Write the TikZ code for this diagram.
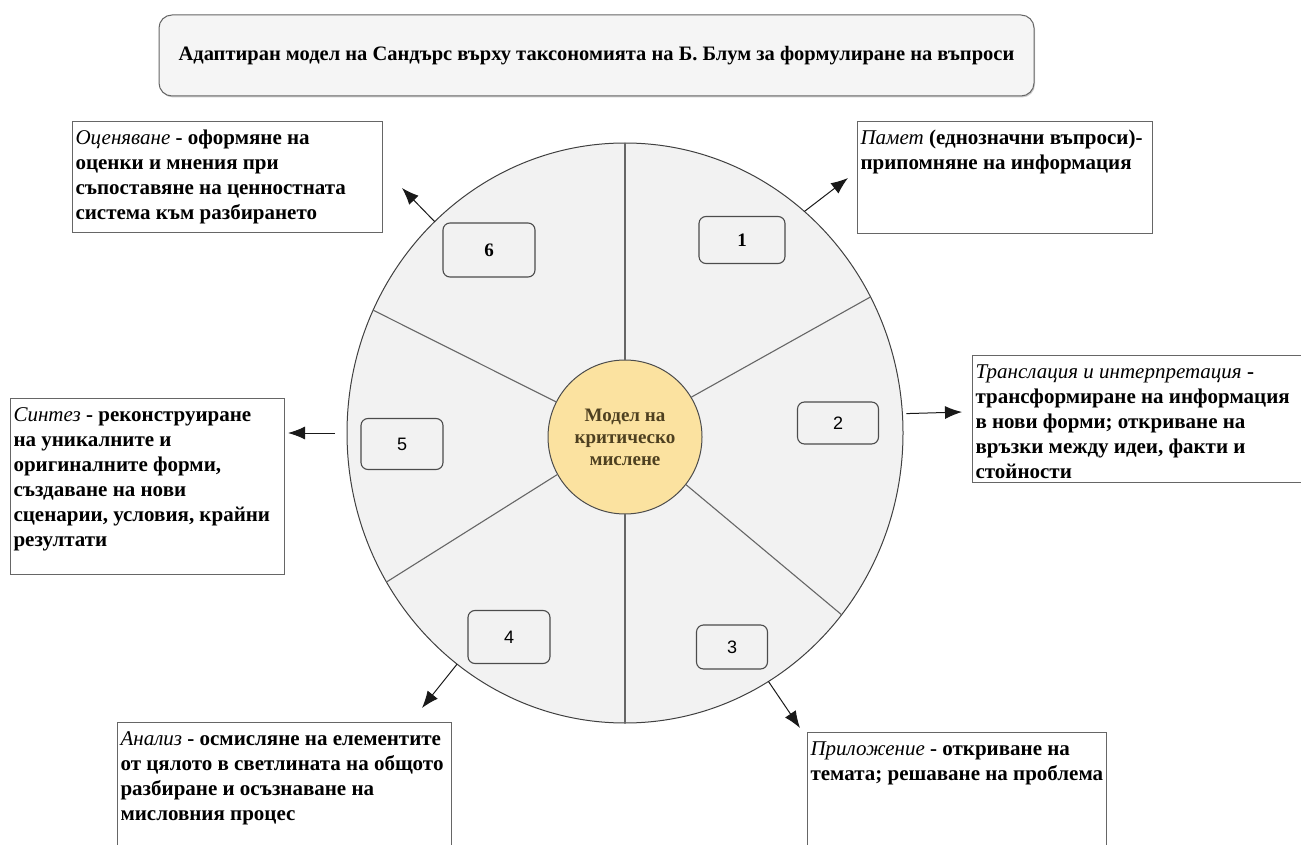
\documentclass[tikz,border=0pt]{standalone}
\usepackage{fontspec}
\setmainfont{Liberation Serif}
\newfontfamily\numfont{Liberation Sans}
\usetikzlibrary{shapes.geometric,arrows.meta,shadows}

\definecolor{wheelgray}{RGB}{242,242,242}
\definecolor{coreyellow}{RGB}{251,226,160}
\definecolor{corebrown}{RGB}{78,64,32}

% text inside the description boxes: width, height, text
\newcommand{\boxtext}[3]{\parbox[t][#2][t]{#1}{\fontsize{21}{25}\selectfont\bfseries\rule{0pt}{20pt}#3}}
\newcommand{\term}[1]{{\mdseries\itshape #1}}

\begin{document}
\begin{tikzpicture}[x=1pt,y=-1pt,
    descbox/.style={draw=black!60, line width=1.1pt, fill=white, anchor=north west, inner sep=3pt},
    numbox/.style={draw=black!70, line width=1.1pt, fill=wheelgray, rounded corners=7pt, inner sep=0pt},
    spoke/.style={draw=black!60, line width=1.1pt},
    outarrow/.style={-{Latex[length=17pt,width=13pt]}, black!90, line width=1pt}]
    \useasboundingbox (0,0) rectangle (1301,845);

    % Title
    \node[draw=black!60, line width=1pt, fill=black!4, rounded corners=13pt,
          minimum width=875pt, minimum height=81pt,
          drop shadow={shadow xshift=1pt, shadow yshift=-1.5pt, opacity=0.4},
          font=\fontsize{20.5}{24}\selectfont\bfseries] (title) at (596.5,55.5)
          {Адаптиран модел на Сандърс върху таксономията на Б. Блум за формулиране на въпроси};

    % Wheel
    \node[ellipse, draw=black!75, line width=1pt, fill=wheelgray, inner sep=0pt, outer sep=0pt,
          minimum width=556pt, minimum height=580pt] (wheel) at (625,433) {};
    \node[circle, draw=black!70, line width=1pt, fill=coreyellow, inner sep=0pt, outer sep=0pt,
          minimum size=154pt, align=center, text=corebrown,
          font=\fontsize{19}{22}\selectfont\bfseries] (core) at (625,437)
          {Модел на\\критическо\\мислене};

    % Spokes
    \draw[spoke] (core.90) -- (wheel.90);
    \draw[spoke] (core.31) -- (wheel.29.3);
    \draw[spoke] (core.-38.5) -- (wheel.-40.6);
    \draw[spoke] (core.270) -- (wheel.270);
    \draw[spoke] (core.209.7) -- (wheel.212);
    \draw[spoke] (core.153) -- (wheel.154.4);

    % Numbered boxes
    \node[numbox, minimum width=92pt, minimum height=54pt, font=\fontsize{19}{20}\selectfont\bfseries] (n6) at (489,250) {6};
    \node[numbox, minimum width=86pt, minimum height=47pt, font=\fontsize{19}{20}\selectfont\bfseries] (n1) at (742,240) {1};
    \node[numbox, minimum width=81pt, minimum height=42pt, font=\fontsize{18}{20}\numfont] (n2) at (838,423) {2};
    \node[numbox, minimum width=82pt, minimum height=51pt, font=\fontsize{18}{20}\numfont] (n5) at (402,444) {5};
    \node[numbox, minimum width=82pt, minimum height=53pt, font=\fontsize{18}{20}\numfont] (n4) at (509,637) {4};
    \node[numbox, minimum width=71pt, minimum height=44pt, font=\fontsize{18}{20}\numfont] (n3) at (732,647) {3};

    % Description boxes
    \node[descbox] (evalbox) at (72,121) {\boxtext{304pt}{105pt}{\term{Оценяване} - оформяне на\\оценки и мнения при\\съпоставяне на ценностната\\система към разбирането}};
    \node[descbox] (memorybox) at (857,121) {\boxtext{289pt}{106pt}{\term{Памет} (еднозначни въпроси)-\\припомняне на информация}};
    \node[descbox] (transbox) at (972,355) {\boxtext{340pt}{121pt}{\term{Транслация и интерпретация} -\\трансформиране на информация\\в нови форми; откриване на\\връзки между идеи, факти и\\стойности}};
    \node[descbox] (synthbox) at (10,398) {\boxtext{268pt}{170pt}{\term{Синтез} - реконструиране\\на уникалните и\\оригиналните форми,\\създаване на нови\\сценарии, условия, крайни\\резултати}};
    \node[descbox] (analbox) at (117,722) {\boxtext{328pt}{140pt}{\term{Анализ} - осмисляне на елементите\\от цялото в светлината на общото\\разбиране и осъзнаване на\\мисловния процес}};
    \node[descbox] (applbox) at (807,732) {\boxtext{293pt}{130pt}{\term{Приложение} - откриване на\\темата; решаване на проблема}};

    % Arrows out of the wheel
    \coordinate (tip1) at (848,178);
    \coordinate (tip2) at (962,412);
    \coordinate (tip3) at (800,728);
    \coordinate (tip4) at (422,708);
    \coordinate (tip5) at (288,433);
    \coordinate (tip6) at (402,188);
    \draw[outarrow] (wheel.51.6) -- (tip1);
    \draw[outarrow] ([xshift=4pt]wheel.4.3) -- (tip2);
    \draw[outarrow] (wheel.-60) -- (tip3);
    \draw[outarrow] (wheel.234.6) -- (tip4);
    \draw[outarrow] ([xshift=-12pt]wheel.west) -- (tip5);
    \draw[outarrow] (wheel.132) -- (tip6);
\end{tikzpicture}
\end{document}
